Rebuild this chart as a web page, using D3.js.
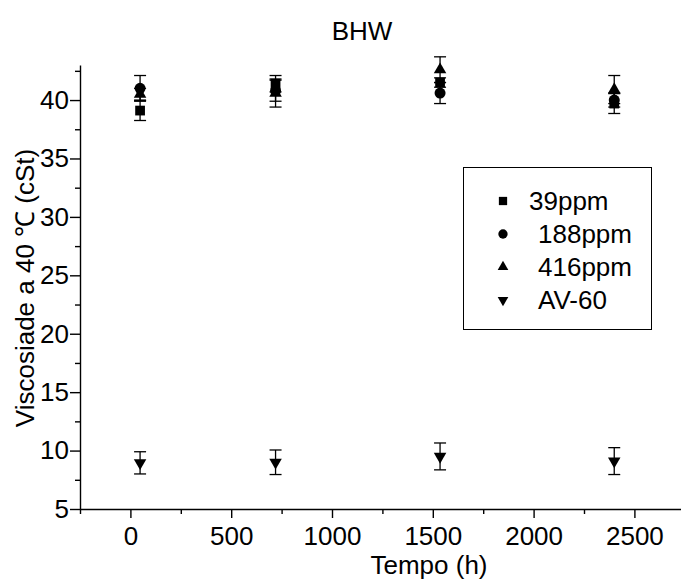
<!DOCTYPE html>
<html>
<head>
<meta charset="utf-8">
<script src="https://cdn.jsdelivr.net/npm/d3@7"></script>
<style>
  body { margin: 0; background: #fff; }
  text { font-family: "Liberation Sans", Arial, sans-serif; fill: #000; }
</style>
</head>
<body>
<div id="chart"></div>
<script>
// Data
const times = [48, 720, 1536, 2400];
const seriesNames = ["39ppm", "188ppm", "416ppm", "AV-60"];
const v39 = [39.1, 41.4, 41.5, 39.7];
const e39 = [0.85, 0.7, 0.4, 0.85];
const v188 = [41.0, 40.8, 40.6, 40.0];
const e188 = [1.1, 0.9, 0.9, 0.6];
const v416 = [40.5, 40.6, 42.6, 40.9];
const e416 = [0.5, 1.2, 1.1, 1.2];
const vAV = [8.95, 9.0, 9.5, 9.1];
const eAV = [0.95, 1.05, 1.15, 1.15];
const xMajorTicks = [0, 500, 1000, 1500, 2000, 2500];
const xMinorTicks = [-250, 250, 750, 1250, 1750, 2250, 2750];
const yMajorTicks = [5, 10, 15, 20, 25, 30, 35, 40];
const yMinorTicks = [7.5, 12.5, 17.5, 22.5, 27.5, 32.5, 37.5, 42.5];

const W = 681, H = 583;
const FS = 26;

const svg = d3.select("#chart").append("svg")
    .attr("width", W).attr("height", H);

// scales
const x = d3.scaleLinear().domain([-250, 2750]).range([80, 684.8]);
const y = d3.scaleLinear().domain([5, 43]).range([509, 65]);

// x axis (major + minor ticks)
const gx = svg.append("g").attr("transform", `translate(0,${y(5)})`);
gx.call(d3.axisBottom(x).tickValues(xMajorTicks).tickFormat(d3.format("d"))
    .tickSize(9).tickPadding(9).tickSizeOuter(0));
gx.append("g").call(d3.axisBottom(x).tickValues(xMinorTicks).tickSize(5).tickFormat("").tickSizeOuter(0))
    .select(".domain").remove();
gx.selectAll("text").attr("font-size", FS);

// y axis
const gy = svg.append("g").attr("transform", `translate(${x(-250)},0)`);
gy.call(d3.axisLeft(y).tickValues(yMajorTicks).tickFormat(d3.format("d"))
    .tickSize(10).tickPadding(1).tickSizeOuter(0));
gy.append("g").call(d3.axisLeft(y).tickValues(yMinorTicks).tickSize(5).tickFormat("").tickSizeOuter(0))
    .select(".domain").remove();
gy.selectAll("text").attr("font-size", FS);

svg.selectAll(".domain, .tick line").attr("stroke", "#000").attr("stroke-width", 1.4);

// titles
svg.append("text").attr("x", 362).attr("y", 40)
    .attr("text-anchor", "middle").attr("font-size", FS).text("BHW");

svg.append("text").attr("x", 429).attr("y", 574)
    .attr("text-anchor", "middle").attr("font-size", FS).text("Tempo (h)");

svg.append("text")
    .attr("transform", "translate(34,288) rotate(-90)")
    .attr("text-anchor", "middle").attr("font-size", FS)
    .text("Viscosiade a 40 \u2103 (cSt)");

// series
const symbols = [d3.symbolSquare, d3.symbolCircle, d3.symbolTriangle, d3.symbolTriangle];
const symSizes = [95, 95, 68, 68];
const symRotate = [0, 0, 0, 180];
const allValues = [v39, v188, v416, vAV];
const allErrors = [e39, e188, e416, eAV];

const plot = svg.append("g");
seriesNames.forEach((name, s) => {
    const pts = times.map((t, i) => ({ t, v: allValues[s][i], e: allErrors[s][i] }));
    const g = plot.append("g");
    // error bars
    const eb = g.selectAll(".eb").data(pts).join("g").attr("class", "eb")
        .attr("stroke", "#000").attr("stroke-width", 1.3);
    eb.append("line")
        .attr("x1", d => x(d.t)).attr("x2", d => x(d.t))
        .attr("y1", d => y(d.v + d.e)).attr("y2", d => y(d.v - d.e));
    eb.append("line")
        .attr("x1", d => x(d.t) - 6).attr("x2", d => x(d.t) + 6)
        .attr("y1", d => y(d.v + d.e)).attr("y2", d => y(d.v + d.e));
    eb.append("line")
        .attr("x1", d => x(d.t) - 6).attr("x2", d => x(d.t) + 6)
        .attr("y1", d => y(d.v - d.e)).attr("y2", d => y(d.v - d.e));
    // markers
    g.selectAll(".pt").data(pts).join("path").attr("class", "pt")
        .attr("d", d3.symbol().type(symbols[s]).size(symSizes[s]))
        .attr("transform", d => `translate(${x(d.t)},${y(d.v)}) rotate(${symRotate[s]})`)
        .attr("fill", "#000");
});

// legend
const legend = svg.append("g");
legend.append("rect")
    .attr("x", 463.5).attr("y", 167.5).attr("width", 188).attr("height", 162)
    .attr("fill", "none").attr("stroke", "#000").attr("stroke-width", 1);
seriesNames.forEach((name, s) => {
    const ly = 201 + s * 33;
    legend.append("path")
        .attr("d", d3.symbol().type(symbols[s]).size(symSizes[s] * 0.72))
        .attr("transform", `translate(503,${ly}) rotate(${symRotate[s]})`)
        .attr("fill", "#000");
    legend.append("text")
        .attr("x", s === 0 ? 529 : 538).attr("y", ly).attr("dy", "0.36em")
        .attr("font-size", FS).text(name);
});
</script>
</body>
</html>
